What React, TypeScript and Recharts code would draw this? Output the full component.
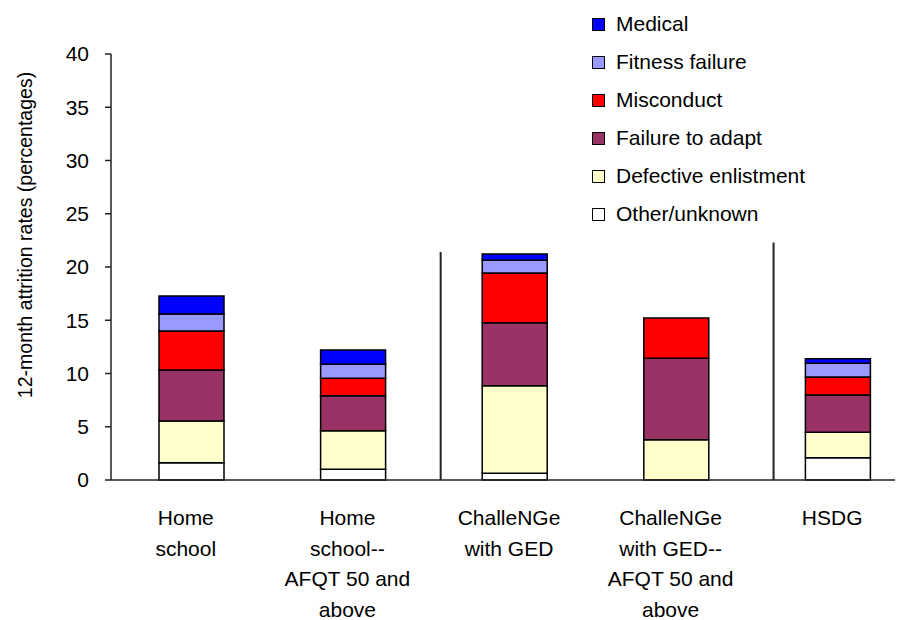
import { Bar, BarChart, Label, Legend, ReferenceLine, XAxis, YAxis } from "recharts"

// categories and their wrapped tick labels
const categories = [
    "Home school",
    "Home school--AFQT 50 and above",
    "ChalleNGe with GED",
    "ChalleNGe with GED--AFQT 50 and above",
    "HSDG",
]
const tickLabels = [
    ["Home", "school"],
    ["Home", "school--", "AFQT 50 and", "above"],
    ["ChalleNGe", "with GED"],
    ["ChalleNGe", "with GED--", "AFQT 50 and", "above"],
    ["HSDG"],
]

// stacked series, bottom to top
const otherUnknown = [1.62, 1.0, 0.63, 0, 2.09]
const defectiveEnlistment = [3.92, 3.63, 8.22, 3.78, 2.39]
const failureToAdapt = [4.79, 3.29, 5.92, 7.65, 3.5]
const misconduct = [3.66, 1.63, 4.67, 3.78, 1.69]
const fitnessFailure = [1.6, 1.31, 1.19, 0, 1.29]
const medical = [1.69, 1.34, 0.59, 0, 0.43]

const yTicks = [0, 5, 10, 15, 20, 25, 30, 35, 40]

// vertical dividers between groups (position along categories, height in %)
const dividers = [
    { at: 2.04, top: 21.4 },
    { at: 4.1, top: 22.3 },
]

const series = [
    { key: "other", name: "Other/unknown", color: "#FFFFFF", values: otherUnknown },
    { key: "defective", name: "Defective enlistment", color: "#FFFFCC", values: defectiveEnlistment },
    { key: "adapt", name: "Failure to adapt", color: "#993366", values: failureToAdapt },
    { key: "misconduct", name: "Misconduct", color: "#FF0000", values: misconduct },
    { key: "fitness", name: "Fitness failure", color: "#9999FF", values: fitnessFailure },
    { key: "medical", name: "Medical", color: "#0000FF", values: medical },
]

// slot = category index measured in category widths, for the divider axis
const data = categories.map((name, i) => {
    const row: Record<string, string | number> = { name, slot: i + 0.5 }
    series.forEach((s) => {
        row[s.key] = s.values[i]
    })
    return row
})

const FONT = '"Liberation Sans", Arial, sans-serif'

const CategoryTick = (props: any) => {
    const { x, y, payload } = props
    const idx = categories.indexOf(payload.value)
    const lines = idx >= 0 ? tickLabels[idx] : [String(payload.value)]
    return (
        <text x={x} y={y} textAnchor="middle" fontSize={21} fontFamily={FONT} fill="#000">
            {lines.map((line, i) => (
                <tspan key={i} x={x - 6} dy={i === 0 ? 37 : 30.5}>
                    {line}
                </tspan>
            ))}
        </text>
    )
}

const LegendBox = () => (
    <div style={{ fontFamily: FONT, fontSize: 21, color: "#000" }}>
        {[...series].reverse().map((s) => (
            <div key={s.key} style={{ display: "flex", alignItems: "center", height: 38 }}>
                <span
                    style={{
                        width: 11,
                        height: 11,
                        background: s.color,
                        border: "1px solid #000",
                        marginRight: 11,
                    }}
                />
                <span>{s.name}</span>
            </div>
        ))}
    </div>
)

export default function App() {
    return (
        <div style={{ width: 895, height: 612, overflow: "hidden", position: "relative" }}>
            <BarChart
                width={911}
                height={612}
                data={data}
                barSize={65}
                margin={{ top: 46, right: 0, left: 0, bottom: 10 }}
            >
                <XAxis
                    dataKey="name"
                    height={130}
                    interval={0}
                    tickLine={false}
                    tick={<CategoryTick />}
                    stroke="#222"
                    strokeWidth={1.5}
                />
                <XAxis
                    xAxisId="sep"
                    dataKey="slot"
                    type="number"
                    domain={[0, 5]}
                    allowDataOverflow
                    hide
                />
                <YAxis
                    width={103}
                    domain={[0, 40]}
                    ticks={yTicks}
                    interval={0}
                    tickSize={6}
                    tickMargin={16}
                    stroke="#222"
                    strokeWidth={1.5}
                    tick={{ fontSize: 21, fontFamily: FONT, fill: "#000" }}
                >
                    <Label
                        content={({ viewBox }: any) => {
                            const cx = viewBox.x + 24
                            const cy = viewBox.y + viewBox.height / 2 - 32
                            return (
                                <text
                                    x={cx}
                                    y={cy}
                                    transform={`rotate(-90 ${cx} ${cy})`}
                                    textAnchor="middle"
                                    fontSize={19.5}
                                    fontFamily={FONT}
                                    fill="#000"
                                >
                                    12-month attrition rates (percentages)
                                </text>
                            )
                        }}
                    />
                </YAxis>
                <Legend
                    layout="vertical"
                    align="center"
                    verticalAlign="middle"
                    wrapperStyle={{ left: 584, top: -3, width: 260 }}
                    content={<LegendBox />}
                />
                {series.map((s) => (
                    <Bar
                        key={s.key}
                        dataKey={s.key}
                        name={s.name}
                        stackId="a"
                        fill={s.color}
                        stroke="#000"
                        strokeWidth={1.5}
                        isAnimationActive={false}
                    />
                ))}
                {dividers.map((d, i) => (
                    <ReferenceLine
                        key={i}
                        xAxisId="sep"
                        segment={[
                            { x: d.at, y: 0 },
                            { x: d.at, y: d.top },
                        ]}
                        stroke="#222"
                        strokeWidth={2}
                        ifOverflow="visible"
                    />
                ))}
            </BarChart>
        </div>
    )
}
